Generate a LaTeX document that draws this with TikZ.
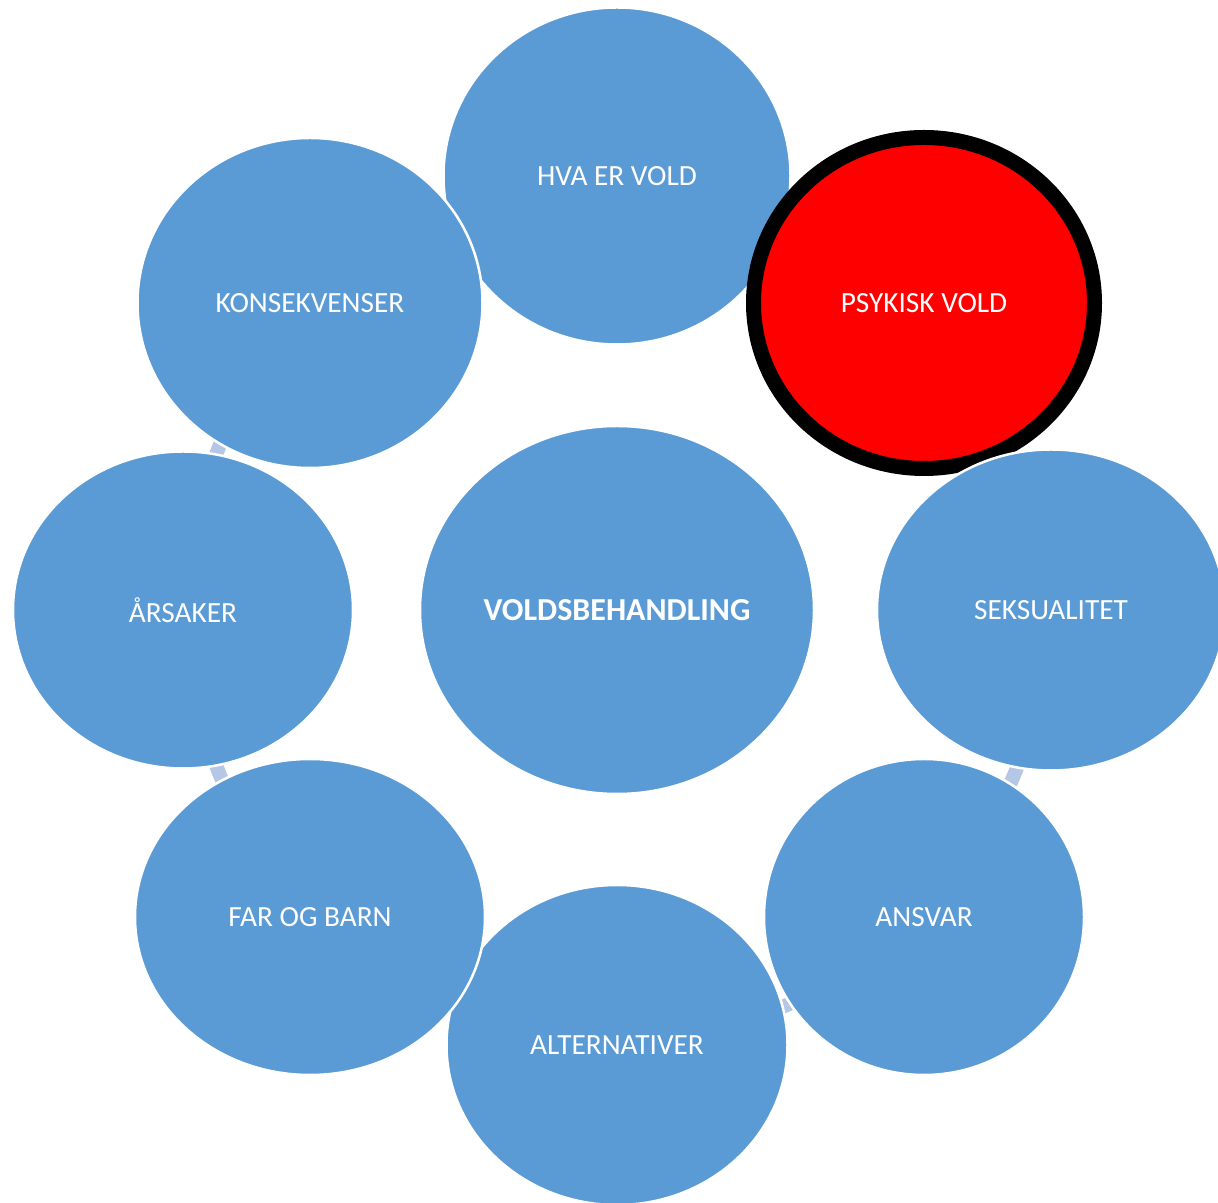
\documentclass[tikz,border=0pt]{standalone}
\usepackage{fontspec}
\setmainfont{Carlito}
\usetikzlibrary{shapes.geometric}
\definecolor{obl}{HTML}{5B9BD5}
\definecolor{lbl}{HTML}{B4C7E7}
\definecolor{pred}{HTML}{FF0000}
\tikzset{
  bub/.style={ellipse, fill=obl, draw=white, line width=2.5pt, inner sep=0pt,
    text=white, font=\fontsize{29.3}{34}\selectfont},
  cyc/.style={draw=lbl, line width=14pt},
}
\begin{document}
\begin{tikzpicture}[x=1pt,y=1pt]
\useasboundingbox (0,0) rectangle (1218,1202);
\coordinate (c) at (617,592);
% cycle arrows (mostly hidden behind the bubbles)
\draw[cyc] (c) ++(143:430pt) arc[start angle=143, end angle=173, radius=430pt];
\draw[cyc] (c) ++(187:430pt) arc[start angle=187, end angle=217, radius=430pt];
\draw[cyc] (c) ++(278:430pt) arc[start angle=278, end angle=308, radius=430pt];
\draw[cyc] (c) ++(322:430pt) arc[start angle=322, end angle=352, radius=430pt];
% bubbles
\node[bub, minimum width=394pt, minimum height=368pt, font=\fontsize{32}{36}\selectfont\bfseries] (ctr) at (c) {VOLDSBEHANDLING};
\node[bub, minimum width=347pt, minimum height=337pt] (hva) at (617,1026) {HVA ER VOLD};
\node[bub, fill=pred, draw=black, line width=15pt, minimum width=341pt, minimum height=331pt] (psy) at (924,899) {PSYKISK VOLD};
\node[bub, minimum width=348pt, minimum height=321pt] (seks) at (1051,592) {SEKSUALITET};
\node[bub, minimum width=320pt, minimum height=316pt] (ansvar) at (924,285) {ANSVAR};
\node[bub, minimum width=341pt, minimum height=320pt] (alt) at (617,157) {ALTERNATIVER};
\node[bub, minimum width=350pt, minimum height=316pt] (far) at (310,285) {FAR OG BARN};
\node[bub, minimum width=340pt, minimum height=317pt] (aars) at (183,592) {ÅRSAKER};
\node[bub, minimum width=345pt, minimum height=330pt] (kons) at (310,899) {KONSEKVENSER};
\end{tikzpicture}
\end{document}
